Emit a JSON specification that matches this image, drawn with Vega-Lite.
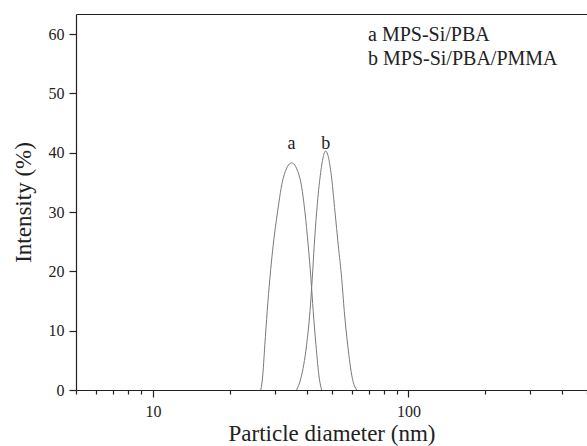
{
  "$schema": "https://vega.github.io/schema/vega-lite/v6.json",
  "width": 511,
  "height": 376,
  "autosize": {"type": "none"},
  "padding": {"left": 76, "top": 14, "right": 0, "bottom": 56},
  "background": "white",
  "config": {
    "view": {"stroke": null},
    "font": "Liberation Serif",
    "axis": {"grid": false, "domainColor": "#222", "domainWidth": 1.2, "tickColor": "#222", "tickWidth": 1.2, "labelFont": "Liberation Serif", "labelColor": "#222", "labelFontSize": 16, "titleFont": "Liberation Serif", "titleFontWeight": "normal", "titleColor": "#222"}
  },
  "datasets": {
    "curves": [
      {"series": "a MPS-Si/PBA", "d": 26.44, "i": 0},
      {"series": "a MPS-Si/PBA", "d": 26.85, "i": 2},
      {"series": "a MPS-Si/PBA", "d": 27.42, "i": 7.6},
      {"series": "a MPS-Si/PBA", "d": 28.0, "i": 13.2},
      {"series": "a MPS-Si/PBA", "d": 28.69, "i": 18.8},
      {"series": "a MPS-Si/PBA", "d": 29.56, "i": 24.4},
      {"series": "a MPS-Si/PBA", "d": 30.75, "i": 30.05},
      {"series": "a MPS-Si/PBA", "d": 32.35, "i": 35.7},
      {"series": "a MPS-Si/PBA", "d": 34.89, "i": 38.3},
      {"series": "a MPS-Si/PBA", "d": 37.61, "i": 35.7},
      {"series": "a MPS-Si/PBA", "d": 39.35, "i": 30.05},
      {"series": "a MPS-Si/PBA", "d": 40.53, "i": 24.4},
      {"series": "a MPS-Si/PBA", "d": 41.54, "i": 18.8},
      {"series": "a MPS-Si/PBA", "d": 42.42, "i": 13.2},
      {"series": "a MPS-Si/PBA", "d": 43.46, "i": 7.6},
      {"series": "a MPS-Si/PBA", "d": 44.78, "i": 2},
      {"series": "a MPS-Si/PBA", "d": 45.76, "i": 0},
      {"series": "b MPS-Si/PBA/PMMA", "d": 36.5, "i": 0},
      {"series": "b MPS-Si/PBA/PMMA", "d": 37.95, "i": 2},
      {"series": "b MPS-Si/PBA/PMMA", "d": 39.95, "i": 7.6},
      {"series": "b MPS-Si/PBA/PMMA", "d": 41.17, "i": 13.2},
      {"series": "b MPS-Si/PBA/PMMA", "d": 42.04, "i": 18.8},
      {"series": "b MPS-Si/PBA/PMMA", "d": 42.8, "i": 24.4},
      {"series": "b MPS-Si/PBA/PMMA", "d": 43.74, "i": 30.05},
      {"series": "b MPS-Si/PBA/PMMA", "d": 45.06, "i": 35.7},
      {"series": "b MPS-Si/PBA/PMMA", "d": 47.44, "i": 40.3},
      {"series": "b MPS-Si/PBA/PMMA", "d": 50.08, "i": 35.7},
      {"series": "b MPS-Si/PBA/PMMA", "d": 51.59, "i": 30.05},
      {"series": "b MPS-Si/PBA/PMMA", "d": 53.15, "i": 24.4},
      {"series": "b MPS-Si/PBA/PMMA", "d": 54.82, "i": 18.8},
      {"series": "b MPS-Si/PBA/PMMA", "d": 56.12, "i": 13.2},
      {"series": "b MPS-Si/PBA/PMMA", "d": 57.86, "i": 7.6},
      {"series": "b MPS-Si/PBA/PMMA", "d": 60.31, "i": 2},
      {"series": "b MPS-Si/PBA/PMMA", "d": 62.76, "i": 0}
    ],
    "peaks": [
      {"label": "a", "d": 34.9, "i": 40.6},
      {"label": "b", "d": 47.5, "i": 40.6}
    ]
  },
  "resolve": {"axis": {"x": "independent"}},
  "layer": [
    {
      "data": {"name": "curves"},
      "mark": {"type": "line", "interpolate": "monotone", "strokeWidth": 1, "clip": true},
      "encoding": {
        "x": {
          "field": "d", "type": "quantitative",
          "scale": {"type": "log", "domain": [5, 500], "nice": false},
          "axis": {
            "orient": "bottom",
            "title": "Particle diameter (nm)",
            "titleFontSize": 23,
            "titlePadding": 3,
            "values": [5, 6, 7, 8, 9, 10, 20, 30, 40, 50, 60, 70, 80, 90, 100, 200, 300, 400, 500],
            "labelExpr": "datum.value === 10 || datum.value === 100 ? datum.label : ''",
            "tickSize": {"condition": {"test": "datum.value === 10 || datum.value === 100", "value": 7}, "value": 4},
            "labelPadding": 6,
            "labelFlush": false
          }
        },
        "y": {
          "field": "i", "type": "quantitative",
          "scale": {"domain": [0, 63.4], "nice": false, "zero": true},
          "axis": {
            "title": "Intensity (%)",
            "titleFontSize": 23,
            "titlePadding": 13,
            "values": [0, 5, 10, 15, 20, 25, 30, 35, 40, 45, 50, 55, 60],
            "labelExpr": "datum.value % 10 === 0 ? datum.label : ''",
            "tickSize": {"condition": {"test": "datum.value % 10 === 0", "value": 7}, "value": 4},
            "labelPadding": 5
          }
        },
        "color": {
          "field": "series", "type": "nominal",
          "scale": {"range": ["#7a7a7a", "#7a7a7a"]},
          "legend": {
            "orient": "none",
            "legendX": 272,
            "legendY": 11,
            "title": null,
            "padding": 0,
            "symbolSize": 0,
            "symbolStrokeWidth": 0,
            "symbolOpacity": 0,
            "labelOffset": 0,
            "labelFont": "Liberation Serif",
            "labelFontSize": 20,
            "labelColor": "#222",
            "labelLimit": 300,
            "rowPadding": 4
          }
        }
      }
    },
    {
      "data": {"name": "peaks"},
      "mark": {"type": "text", "fontSize": 18, "baseline": "alphabetic", "font": "Liberation Serif", "color": "#222"},
      "encoding": {
        "x": {
          "field": "d", "type": "quantitative",
          "axis": {"orient": "top", "labels": false, "ticks": false, "title": null, "domainColor": "#222", "domainWidth": 1.2}
        },
        "y": {"field": "i", "type": "quantitative"},
        "text": {"field": "label"}
      }
    }
  ]
}
